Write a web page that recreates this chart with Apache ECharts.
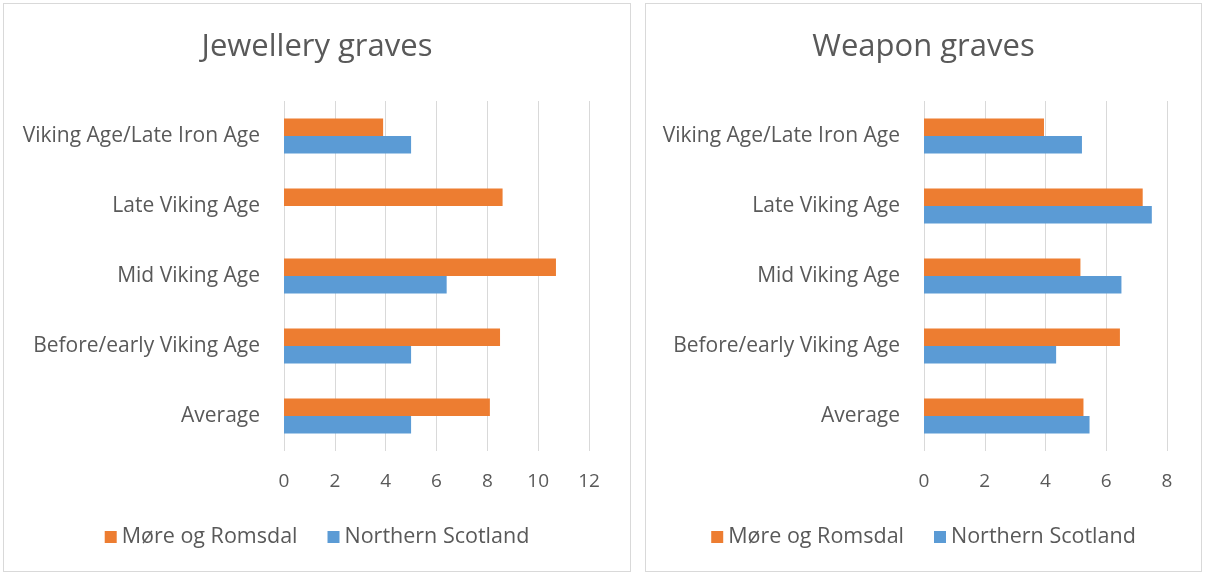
<!DOCTYPE html>
<html>
<head>
<meta charset="utf-8">
<script src="https://cdn.jsdelivr.net/npm/echarts@6/dist/echarts.min.js"></script>
<style>
  html, body { margin: 0; padding: 0; background: #fff; }
  .panel { position: absolute; top: 3px; height: 569px; border: 1px solid #d9d9d9; box-sizing: border-box; }
  #left { left: 3px; width: 628px; }
  #right { left: 645px; width: 557px; }
</style>
</head>
<body>
<div id="left" class="panel"></div>
<div id="right" class="panel"></div>
<script>
// categories, bottom to top (y category axis starts at the bottom)
var categories = ['Average', 'Before/early Viking Age', 'Mid Viking Age', 'Late Viking Age', 'Viking Age/Late Iron Age']
var seriesNames = ['Møre og Romsdal', 'Northern Scotland']

// Jewellery graves
var jewelMore = [8.1, 8.5, 10.7, 8.6, 3.9]
var jewelScot = [5, 5, 6.4, null, 5]
var jewelTicks = [0, 2, 4, 6, 8, 10, 12]

// Weapon graves
var weaponMore = [5.25, 6.45, 5.15, 7.2, 3.95]
var weaponScot = [5.45, 4.35, 6.5, 7.5, 5.2]
var weaponTicks = [0, 2, 4, 6, 8]

var textColor = '#595959'
var fontFam = '"Open Sans", sans-serif'

function makeOption (title, more, scot, ticks, gridLeft, gridRight) {
  return {
    animation: false,
    backgroundColor: '#fff',
    title: {
      text: title,
      left: 'center',
      top: 23,
      textStyle: { fontSize: 31, fontWeight: 'normal', color: textColor, fontFamily: fontFam }
    },
    legend: {
      data: seriesNames,
      top: 517,
      left: 'center',
      icon: 'rect',
      itemWidth: 12,
      itemHeight: 12,
      itemGap: 30,
      textStyle: { fontSize: 21.5, color: textColor, fontFamily: fontFam }
    },
    grid: {
      left: gridLeft,
      right: gridRight,
      top: 97,
      height: 350
    },
    xAxis: {
      type: 'value',
      min: ticks[0],
      max: ticks[ticks.length - 1],
      interval: ticks[1] - ticks[0],
      axisLine: { show: false },
      axisTick: { show: false },
      axisLabel: { color: textColor, fontSize: 19, fontFamily: fontFam, margin: 21 },
      splitLine: { show: true, lineStyle: { color: '#d9d9d9', width: 1 } }
    },
    yAxis: {
      type: 'category',
      data: categories,
      axisLine: { show: false },
      axisTick: { show: false },
      axisLabel: { color: textColor, fontSize: 21, fontFamily: fontFam, margin: 24 }
    },
    series: [
      {
        name: seriesNames[0],
        type: 'bar',
        data: more,
        barGap: '0%',
        barCategoryGap: '50%',
        itemStyle: { color: '#ED7D31' }
      },
      {
        name: seriesNames[1],
        type: 'bar',
        data: scot,
        barGap: '0%',
        barCategoryGap: '50%',
        itemStyle: { color: '#5B9BD5' }
      }
    ]
  }
}

var leftChart = echarts.init(document.getElementById('left'))
leftChart.setOption(makeOption('Jewellery graves', jewelMore, jewelScot, jewelTicks, 280, 41))

var rightChart = echarts.init(document.getElementById('right'))
rightChart.setOption(makeOption('Weapon graves', weaponMore, weaponScot, weaponTicks, 278, 34))
</script>
</body>
</html>
